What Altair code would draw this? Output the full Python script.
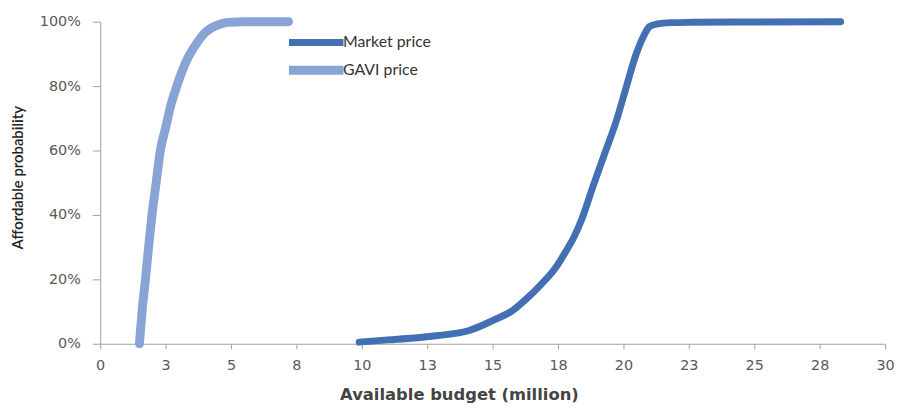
import altair as alt
import pandas as pd

# GAVI price curve (budget in million, probability)
gavi_x = [1.5, 1.6, 1.73, 1.85, 1.98, 2.14, 2.3, 2.5, 2.7, 2.93, 3.15, 3.37, 3.75, 4.0, 4.24, 4.6, 4.9, 5.5, 7.2]
gavi_y = [0.0, 0.1, 0.2, 0.3, 0.4, 0.5, 0.6, 0.67, 0.74, 0.8, 0.85, 0.89, 0.94, 0.965, 0.98, 0.993, 0.998, 1.0, 1.0]

# Market price curve
market_x = [9.9, 11.0, 12.0, 12.84, 14.1, 15.0, 15.76, 16.3, 16.8, 17.4, 17.77, 18.1, 18.4, 18.83, 19.28,
            19.72, 20.1, 20.48, 20.8, 21.0, 21.3, 21.8, 22.6, 25.0, 28.3]
market_y = [0.005, 0.012, 0.018, 0.025, 0.041, 0.072, 0.103, 0.14, 0.18, 0.235, 0.283, 0.33, 0.385, 0.487, 0.59,
            0.69, 0.795, 0.898, 0.96, 0.985, 0.993, 0.997, 0.998, 0.999, 1.0]

series_names = ["Market price", "GAVI price"]
series_colors = ["#4270b2", "#88a4d4"]
series_widths = [7, 9]

x_tick_values = [0, 2.5, 5, 7.5, 10, 12.5, 15, 17.5, 20, 22.5, 25, 27.5, 30]
x_tick_labels = ["0", "3", "5", "8", "10", "13", "15", "18", "20", "23", "25", "28", "30"]
y_tick_values = [0, 0.2, 0.4, 0.6, 0.8, 1.0]

rows = []
for i, (x, y) in enumerate(zip(market_x, market_y)):
    rows.append({"series": "Market price", "budget": x, "prob": y, "order": i})
for i, (x, y) in enumerate(zip(gavi_x, gavi_y)):
    rows.append({"series": "GAVI price", "budget": x, "prob": y, "order": i})
df = pd.DataFrame(rows)

label_expr = " : ".join(
    f"datum.value == {v} ? '{l}'" for v, l in zip(x_tick_values, x_tick_labels)
) + " : ''"

chart = alt.Chart(df).mark_line(interpolate="monotone", strokeCap="round", strokeJoin="round").encode(
    x=alt.X("budget:Q",
            scale=alt.Scale(domain=[0, 30], nice=False),
            axis=alt.Axis(values=x_tick_values, labelExpr=label_expr, title="Available budget (million)",
                          grid=False, tickSize=5, labelPadding=10, labelFontSize=14.5, labelColor="#595959",
                          labelFont="DejaVu Sans", domainColor="#a0a0a0", tickColor="#a0a0a0",
                          titleFont="DejaVu Sans", titleFontSize=16.5, titleFontWeight="bold",
                          titleColor="#444444", titleY=51, titleX=362, titleAlign="center",
                          titleBaseline="middle", labelFlush=False)),
    y=alt.Y("prob:Q",
            scale=alt.Scale(domain=[0, 1], nice=False),
            axis=alt.Axis(values=y_tick_values, format=".0%", title="Affordable probability",
                          grid=False, tickSize=8, labelPadding=12, labelFontSize=14.5, labelColor="#595959",
                          labelFont="DejaVu Sans", domainColor="#a0a0a0", tickColor="#a0a0a0",
                          titleFont="Lato", titleFontSize=15, titleFontWeight=600, titleColor="#222222",
                          titleX=-83, titleY=157, titleBaseline="middle", titleAngle=-90)),
    color=alt.Color("series:N",
                    scale=alt.Scale(domain=series_names, range=series_colors),
                    legend=alt.Legend(title=None, orient="none", legendX=207, legendY=11,
                                      symbolType="M-4.4,0H4.4", symbolSize=156.25, symbolStrokeWidth=6,
                                      symbolFillColor="transparent",
                                      labelFont="Lato", labelFontSize=16, labelColor="#333333",
                                      labelOffset=16, rowPadding=-4)),
    strokeWidth=alt.StrokeWidth("series:N",
                                scale=alt.Scale(domain=series_names, range=series_widths),
                                legend=None),
    order="order:Q",
).properties(
    width=792, height=325,
    autosize=alt.AutoSizeParams(type="none"),
    padding={"left": 93, "top": 12, "right": 9, "bottom": 62},
).configure_view(stroke=None)

chart.save("out.html", embed_options={"renderer": "svg", "actions": False})
